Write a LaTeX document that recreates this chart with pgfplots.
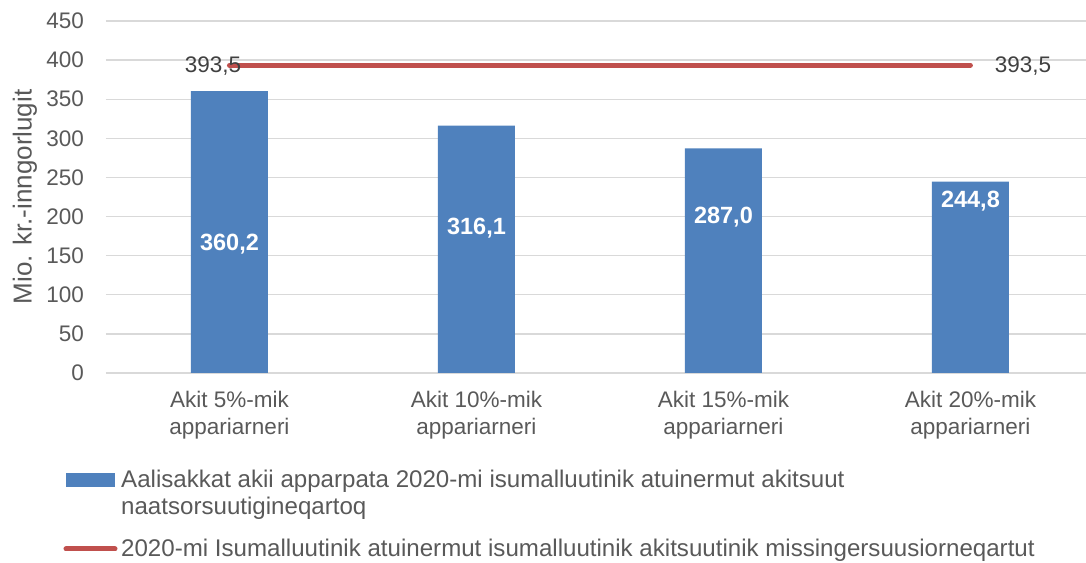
\documentclass[border=0pt]{standalone}
\usepackage{pgfplots}
\pgfplotsset{compat=1.18}
\usepackage{fontspec}
\setmainfont{Liberation Sans}
\definecolor{barblue}{HTML}{4F81BD}
\definecolor{linered}{HTML}{C0504D}
\definecolor{txtgrey}{HTML}{595959}
\definecolor{valgrey}{HTML}{404040}
\definecolor{gridgrey}{HTML}{D9D9D9}
\newcommand\chartfont{\fontsize{22.5}{27}\selectfont}
\newcommand\legfont{\fontsize{24.1}{29}\selectfont}

\begin{document}
\begin{tikzpicture}
\begin{axis}[
  name=ax,
  scale only axis,
  width=980pt, height=352pt,
  xmin=-0.5, xmax=3.468,
  ymin=0, ymax=450,
  ytick={0,50,...,450},
  xtick={0,1,2,3},
  xticklabels={{Akit 5\%-mik\\appariarneri},{Akit 10\%-mik\\appariarneri},
               {Akit 15\%-mik\\appariarneri},{Akit 20\%-mik\\appariarneri}},
  /pgf/number format/assume math mode=true,
  axis line style={draw=none},
  tick style={draw=none},
  ymajorgrids,
  grid style={gridgrey, line width=1.3pt},
  font=\chartfont,
  tick label style={text=txtgrey, inner sep=0pt},
  xticklabel style={align=center, anchor=north, yshift=-18pt},
  yticklabel style={anchor=east, xshift=-22pt},
  ylabel={Mio. kr.-inngorlugit},
  ylabel style={at={(axis description cs:-0.0827,0.5)}, anchor=center,
    text=txtgrey, font=\fontsize{26}{31}\selectfont},
  clip=false,
]
\addplot[ybar, bar width=77pt, fill=barblue, draw=none]
  coordinates {(0,360.2) (1,316.1) (2,287.0) (3,244.8)};
\addplot[linered, line width=5pt, line cap=round]
  coordinates {(0,393.5) (3,393.5)};

\node[text=white, font=\fontsize{23.5}{28}\selectfont\bfseries] at (axis cs:0,165) {360,2};
\node[text=white, font=\fontsize{23.5}{28}\selectfont\bfseries] at (axis cs:1,185) {316,1};
\node[text=white, font=\fontsize{23.5}{28}\selectfont\bfseries] at (axis cs:2,199.5) {287,0};
\node[text=white, font=\fontsize{23.5}{28}\selectfont\bfseries] at (axis cs:3,220) {244,8};
\node[text=valgrey] at (axis cs:-0.067,392) {393,5};
\node[text=valgrey] at (axis cs:3.213,392) {393,5};
\end{axis}
% legend, placed below the axis
\begin{scope}[shift={(ax.south west)}, font=\legfont]
  \fill[barblue] (-40pt,-100pt) rectangle (9pt,-114pt);
  \node[anchor=base west, inner sep=0pt, text=txtgrey] at (15pt,-115pt)
    {Aalisakkat akii apparpata 2020-mi isumalluutinik atuinermut akitsuut};
  \node[anchor=base west, inner sep=0pt, text=txtgrey] at (15pt,-142pt)
    {naatsorsuutigineqartoq};
  \draw[linered, line width=5pt, line cap=round] (-40pt,-176pt) -- (9pt,-176pt);
  \node[anchor=base west, inner sep=0pt, text=txtgrey] at (15pt,-184pt)
    {2020-mi Isumalluutinik atuinermut isumalluutinik akitsuutinik missingersuusiorneqartut};
\end{scope}
\pgfresetboundingbox
\path ([shift={(-106pt,-190pt)}]ax.south west) rectangle ([shift={(0pt,21pt)}]ax.north east);
\end{tikzpicture}
\end{document}
